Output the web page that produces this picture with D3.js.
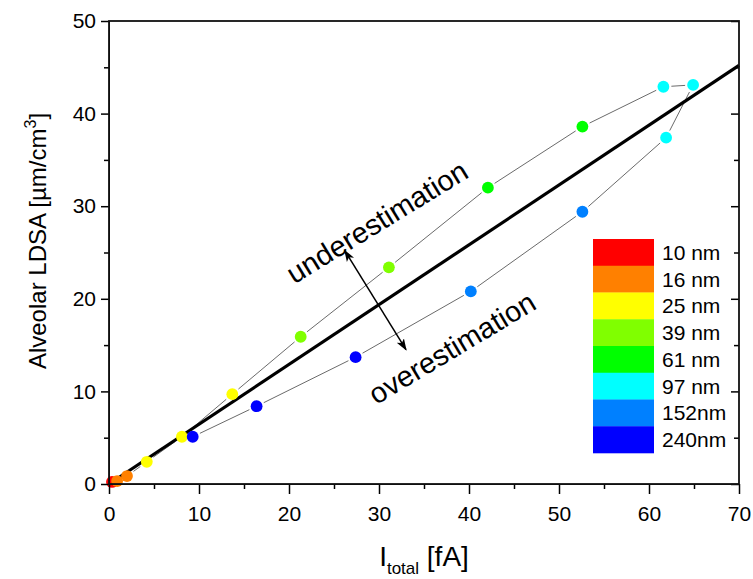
<!DOCTYPE html>
<html><head><meta charset="utf-8">
<script src="https://cdn.jsdelivr.net/npm/d3@7"></script>
<style>body{margin:0;background:#fff}svg{display:block}text{font-family:"Liberation Sans",Arial,sans-serif}</style>
</head><body><svg id="c" width="753" height="579"></svg>
<script>
const sizeLabels = ["10 nm","16 nm","25 nm","39 nm","61 nm","97 nm","152nm","240nm"];
const sizeColors = ["#ff0000","#ff8000","#ffff00","#80ff00","#00ff00","#00ffff","#0080ff","#0000ff"];
// measured points, in plotting order (loop)
const pointX = [0.33,0.9,2.0,4.2,8.1,13.7,21.3,31.1,42.1,52.6,61.6,64.9,61.9,52.6,40.2,27.4,16.4,9.3];
const pointY = [0.22,0.32,0.86,2.4,5.1,9.7,15.9,23.4,32.0,38.6,42.9,43.1,37.4,29.4,20.8,13.7,8.4,5.1];
const pointSize = [0,1,1,2,2,2,3,3,4,4,5,5,5,6,6,7,7,7];
const fitX = [0.3, 70];
const fitY = [0.19, 45.2];
const xTicks = [0,10,20,30,40,50,60,70];
const yTicks = [0,10,20,30,40,50];
const arrowFrom = [26.2, 25.2], arrowTo = [33.0, 14.5];

const svg = d3.select("#c");
const L=109,R=739,T=21,B=484;
const x = d3.scaleLinear().domain([0,70]).range([L,R]);
const y = d3.scaleLinear().domain([0,50]).range([B,T]);

svg.append("defs").append("marker").attr("id","ah").attr("viewBox","0 0 10 10")
 .attr("refX",9).attr("refY",5).attr("markerWidth",12).attr("markerHeight",12).attr("markerUnits","userSpaceOnUse")
 .attr("orient","auto-start-reverse").append("path").attr("d","M0,1.5 L10,5 L0,8.5 L2.5,5 Z").attr("fill","#000");

// thin connecting lines with gaps around markers
const pts = pointX.map((v,i)=>[x(v),y(pointY[i])]);
const gap = 8;
for(let i=0;i<pts.length-1;i++){
  const [x1,y1]=pts[i],[x2,y2]=pts[i+1];
  const d=Math.hypot(x2-x1,y2-y1);
  if(d<2*gap+1) continue;
  const ux=(x2-x1)/d, uy=(y2-y1)/d;
  svg.append("line").attr("x1",x1+ux*gap).attr("y1",y1+uy*gap).attr("x2",x2-ux*gap).attr("y2",y2-uy*gap)
   .attr("stroke","#444").attr("stroke-width",0.8);
}
// fit line
svg.append("line").attr("x1",x(fitX[0])).attr("y1",y(fitY[0])).attr("x2",x(fitX[1])).attr("y2",y(fitY[1]))
 .attr("stroke","#000").attr("stroke-width",3.2);

// points
svg.selectAll("circle.p").data(pointX).enter().append("circle")
 .attr("cx",(d)=>x(d)).attr("cy",(d,i)=>y(pointY[i])).attr("r",5.9)
 .attr("fill",(d,i)=>sizeColors[pointSize[i]]);

// arrow
svg.append("line").attr("x1",x(arrowFrom[0])).attr("y1",y(arrowFrom[1])).attr("x2",x(arrowTo[0])).attr("y2",y(arrowTo[1]))
 .attr("stroke","#000").attr("stroke-width",1.5).attr("marker-start","url(#ah)").attr("marker-end","url(#ah)");

// annotations
svg.append("text").attr("transform","translate(377,222) rotate(-31.5)").attr("text-anchor","middle").attr("dominant-baseline","central")
 .attr("font-size",29).text("underestimation");
svg.append("text").attr("transform","translate(452,348) rotate(-31)").attr("text-anchor","middle").attr("dominant-baseline","central")
 .attr("font-size",29).text("overestimation");

// legend
const lx=593, lw=61, ly=239, lh=26.75;
sizeLabels.forEach((s,i)=>{
  svg.append("rect").attr("x",lx).attr("y",ly+i*lh).attr("width",lw).attr("height",lh+0.3).attr("fill",sizeColors[i]);
  svg.append("text").attr("x",662).attr("y",ly+i*lh+lh/2).attr("dominant-baseline","central").attr("font-size",21).text(s);
});

// axes
const ax = svg.append("g").attr("transform",`translate(0,${B})`).call(d3.axisBottom(x).tickValues(xTicks).tickSize(10).tickPadding(12).tickSizeOuter(0));
ax.selectAll("text").attr("font-size",21).attr("fill","#000").style("font-family","'Liberation Sans',Arial");
svg.append("g").attr("transform",`translate(0,${B})`).call(d3.axisBottom(x).tickValues(d3.range(5,70,10)).tickSize(5).tickFormat("").tickSizeOuter(0)).select(".domain").remove();
const ay = svg.append("g").attr("transform",`translate(${L},0)`).call(d3.axisLeft(y).tickValues(yTicks).tickSize(8).tickPadding(5).tickSizeOuter(0));
ay.selectAll("text").attr("font-size",21).attr("fill","#000").style("font-family","'Liberation Sans',Arial");
svg.append("g").attr("transform",`translate(${L},0)`).call(d3.axisLeft(y).tickValues(d3.range(5,50,10)).tickSize(5).tickFormat("").tickSizeOuter(0)).select(".domain").remove();
svg.append("g").attr("transform",`translate(${R},0)`).call(d3.axisLeft(y).tickValues(yTicks).tickSize(8).tickFormat("").tickSizeOuter(0)).select(".domain").remove();
svg.append("g").attr("transform",`translate(${R},0)`).call(d3.axisLeft(y).tickValues(d3.range(5,50,10)).tickSize(5).tickFormat("").tickSizeOuter(0)).select(".domain").remove();
svg.selectAll(".tick line").attr("stroke","#000").attr("stroke-width",1.5);
svg.append("rect").attr("x",L).attr("y",T).attr("width",R-L).attr("height",B-T).attr("fill","none").attr("stroke","#111").attr("stroke-width",1.8);

// axis titles
const xt = svg.append("text").attr("x",424).attr("y",566).attr("text-anchor","middle").attr("font-size",28);
xt.append("tspan").text("I");
xt.append("tspan").attr("font-size",17).attr("dy",8).text("total");
xt.append("tspan").attr("dy",-8).text(" [fA]");
const yt = svg.append("text").attr("transform","translate(46,241) rotate(-90)").attr("text-anchor","middle").attr("font-size",24);
yt.append("tspan").text("Alveolar LDSA [\u00b5m/cm");
yt.append("tspan").attr("font-size",16).attr("dy",-10).text("3");
yt.append("tspan").attr("dy",10).text("]");
</script></body></html>
